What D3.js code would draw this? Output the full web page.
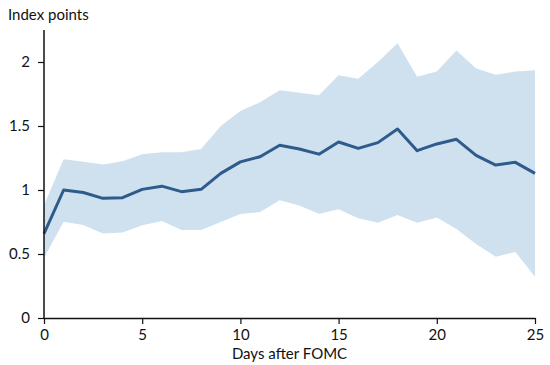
<!DOCTYPE html>
<html><head><meta charset="utf-8">
<script src="https://cdn.jsdelivr.net/npm/d3@7"></script>
<style>body{margin:0;background:#fff}svg{display:block}text{font-family:"Lato","DejaVu Sans",sans-serif;fill:#111}</style>
</head><body><svg id="c" width="550" height="365"></svg>
<script>
const days = d3.range(0, 26);
const meanVals = [0.66,1.0,0.98,0.935,0.94,1.005,1.03,0.987,1.005,1.13,1.22,1.26,1.35,1.32,1.28,1.375,1.325,1.37,1.477,1.307,1.36,1.396,1.27,1.195,1.216,1.13];
const upperVals = [0.88,1.24,1.22,1.20,1.225,1.28,1.295,1.295,1.32,1.5,1.617,1.685,1.78,1.76,1.74,1.896,1.87,2.0,2.146,1.885,1.925,2.09,1.95,1.9,1.925,1.935];
const lowerVals = [0.47,0.752,0.727,0.66,0.667,0.724,0.758,0.6875,0.6875,0.75,0.8125,0.828,0.92,0.878,0.815,0.849,0.779,0.745,0.805,0.745,0.786,0.695,0.578,0.479,0.516,0.323];
const xTicks = [0,5,10,15,20,25];
const yTicks = [0,0.5,1,1.5,2];
const yTickLabels = ["0","0.5","1","1.5","2"];

const svg = d3.select("#c");
const x = d3.scaleLinear().domain([0,25]).range([44,535]);
const y = d3.scaleLinear().domain([0,2.25]).range([318,30]);

svg.append("path").datum(days)
  .attr("fill","#cfe0ef")
  .attr("d", d3.area().x(d=>x(d)).y0(d=>y(lowerVals[d])).y1(d=>y(upperVals[d])));

svg.append("path").datum(days)
  .attr("fill","none").attr("stroke","#2d5b8b").attr("stroke-width",3).attr("stroke-linejoin","round")
  .attr("d", d3.line().x(d=>x(d)).y(d=>y(meanVals[d])));

const gx = svg.append("g").attr("transform","translate(0,318)")
  .call(d3.axisBottom(x).tickValues(xTicks).tickSize(6).tickSizeOuter(0).tickPadding(5));
const gy = svg.append("g").attr("transform","translate(44,0)")
  .call(d3.axisLeft(y).tickValues(yTicks).tickFormat((d,i)=>yTickLabels[i]).tickSize(6).tickSizeOuter(0).tickPadding(8));
[gx,gy].forEach(g=>{
  g.select(".domain").attr("stroke","#111").attr("stroke-width",1.5);
  g.selectAll(".tick line").attr("stroke","#111").attr("stroke-width",1.2);
  g.selectAll(".tick text").attr("font-size",15).attr("font-family","Lato, DejaVu Sans, sans-serif").attr("fill","#111");
});
gy.select(".domain").attr("d","M0,318V30");

svg.append("text").attr("x",8).attr("y",20).attr("font-size",15).text("Index points");
svg.append("text").attr("x",(44+535)/2).attr("y",359).attr("text-anchor","middle").attr("font-size",15).text("Days after FOMC");
</script></body></html>
